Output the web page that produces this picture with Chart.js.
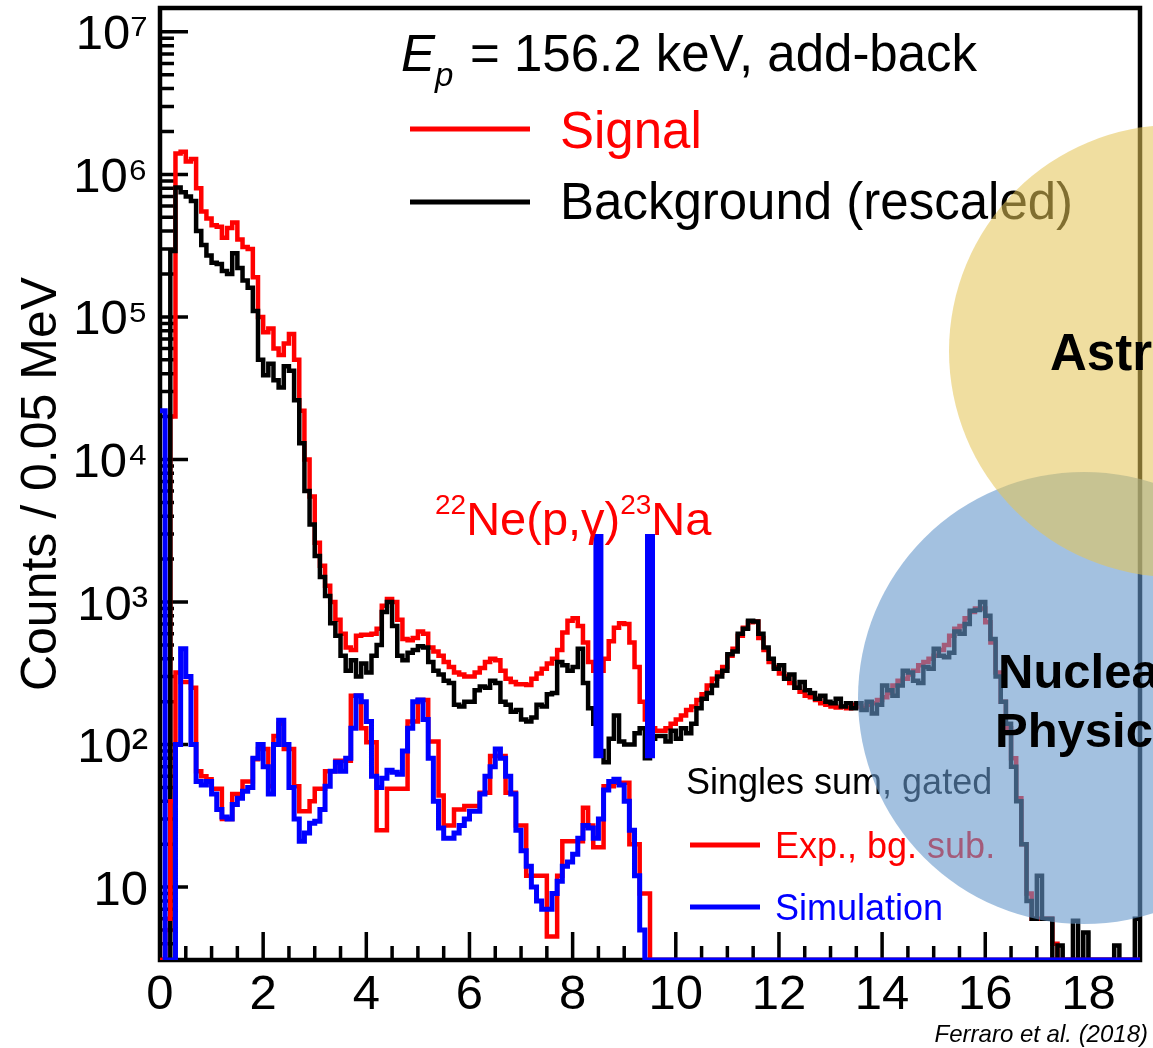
<!DOCTYPE html>
<html>
<head>
<meta charset="utf-8">
<script src="https://cdn.jsdelivr.net/npm/chart.js@4.4.0/dist/chart.umd.min.js"></script>
<style>
  html, body { margin: 0; padding: 0; background: #fff; }
  canvas { display: block; }
</style>
</head>
<body>
<canvas id="spectrum" width="1153" height="1048"></canvas>
<script>
// histograms in 0.1 MeV bins starting at 0 MeV (0 = empty bin)
const binWidth = 0.1;
const xMax = 19.0;
const yMin = 3.08;
const yMax = 1.47e7;

const signal = [
  0, 5, 2.0e4, 1.4e6, 1.44e6, 1.23e6, 1.28e6, 8.0e5, 5.5e5, 4.9e5,
  4.4e5, 4.3e5, 3.6e5, 4.2e5, 4.6e5, 3.5e5, 3.1e5, 3.0e5, 1.9e5, 1.0e5,
  7.8e4, 8.3e4, 6.0e4, 5.4e4, 6.5e4, 7.6e4, 5.0e4, 2.2e4, 1.0e4, 5.5e3,
  2600, 1800, 1300, 1000, 750, 600, 480, 460, 580, 590,
  590, 600, 650, 940, 1050, 1000, 750, 550, 540, 560,
  620, 600, 480, 450, 420, 380, 350, 320, 310, 300,
  300, 320, 345, 380, 400, 390, 330, 290, 275, 265,
  265, 262, 290, 315, 340, 370, 400, 460, 610, 740,
  770, 680, 520, 380, 330, 330, 400, 530, 660, 710,
  700, 520, 350, 200, 150, 130, 125, 125, 130, 140,
  150, 160, 175, 185, 205, 225, 260, 290, 320, 350,
  420, 470, 580, 660, 720, 730, 560, 460, 380, 350,
  315, 300, 270, 250, 235, 220, 215, 205, 195, 190,
  185, 182, 185, 180, 190, 185, 180, 190, 195, 205,
  215, 230, 260, 280, 290, 310, 330, 360, 380, 400,
  420, 460, 500, 580, 650, 680, 770, 850, 900, 900,
  720, 520, 320, 200, 130, 80, 42, 20, 9, 6,
  6, 6, 6, 4, 0, 0, 0, 0, 0, 0,
  0, 0, 0, 0, 0, 0, 0, 0, 0, 0
];

const background = [
  0, 0, 2.9e5, 8.1e5, 7.5e5, 7.0e5, 6.5e5, 4.0e5, 3.2e5, 2.7e5,
  2.4e5, 2.35e5, 2.1e5, 2.0e5, 2.8e5, 2.2e5, 1.8e5, 1.6e5, 1.1e5, 5.0e4,
  3.9e4, 4.7e4, 3.6e4, 3.2e4, 4.5e4, 4.2e4, 2.6e4, 1.3e4, 6.0e3, 3.5e3,
  2100, 1500, 1100, 710, 580, 420, 330, 390, 300, 370,
  320, 420, 500, 850, 1000, 680, 420, 390, 440, 460,
  490, 480, 380, 330, 310, 280, 270, 190, 185, 200,
  200, 240, 255, 250, 280, 270, 200, 190, 170, 175,
  150, 145, 155, 190, 185, 225, 230, 380, 360, 330,
  350, 470, 270, 180, 140, 90, 75, 110, 160, 105,
  100, 100, 120, 130, 80, 110, 115, 115, 105, 125,
  110, 130, 120, 140, 180, 210, 230, 260, 300, 330,
  430, 450, 600, 650, 740, 730, 600, 480, 400, 340,
  360, 290, 310, 250, 275, 240, 230, 210, 220, 200,
  195, 210, 185, 195, 180, 195, 175, 200, 165, 190,
  260, 240, 220, 260, 330, 320, 280, 270, 350, 340,
  470, 420, 410, 440, 620, 600, 700, 870, 880, 1000,
  800, 550, 300, 200, 140, 70, 40, 20, 8, 6,
  12, 6, 6, 0, 3.9, 0, 0, 5.8, 0, 4.8,
  0, 0, 0, 0, 0, 3.9, 0, 0, 0, 6
];

const expBgSub = [
  0, 6, 40, 320, 275, 275, 250, 65, 60, 57,
  49, 49, 30, 30, 45, 45, 55, 55, 79, 93,
  93, 51, 115, 140, 93, 93, 51, 34, 34, 40,
  49, 49, 65, 65, 77, 77, 77, 220, 220, 130,
  104, 104, 25, 25, 49, 49, 49, 49, 145, 145,
  205, 205, 105, 105, 44, 27, 27, 35, 35, 37,
  37, 37, 46, 46, 83, 83, 83, 46, 46, 27,
  27, 12, 12, 12, 12, 4.5, 4.5, 12, 21, 21,
  21, 21, 36, 27, 19, 19, 51, 51, 54, 54,
  54, 20, 20, 9, 9, 0
];

const simulation = [
  2.2e4, 0, 0, 100, 470, 300, 100, 55, 52, 55,
  45, 35, 31, 30, 38, 42, 47, 50, 80, 100,
  70, 45, 100, 148, 100, 50, 30, 21, 24, 28,
  29, 35, 51, 65, 75, 65, 80, 130, 220, 200,
  145, 60, 50, 58, 66, 64, 62, 90, 130, 200,
  205, 150, 80, 40, 26, 22, 22, 24, 27, 30,
  34, 34, 45, 60, 70, 93, 80, 60, 45, 25,
  18, 14, 10, 8, 7, 7, 9, 11, 14, 15,
  17, 22, 27, 26, 22, 30, 48, 55, 57, 52,
  40, 25, 12, 5, 0
];

// gate markers for the 22Ne(p,g)23Na window
const gateEnergies = [8.5, 9.5];
const gateCounts = [80, 3000];

const xTickValues = [0, 2, 4, 6, 8, 10, 12, 14, 16, 18];
const yDecadeValues = [10, 100, 1e3, 1e4, 1e5, 1e6, 1e7];
const yDecadeLabels = ['10', '10²', '10³', '10⁴', '10⁵', '10⁶', '10⁷'];

const FONT = "'Liberation Sans', Arial, Helvetica, sans-serif";

function histogram(values) {
  const pts = values.map((v, i) => ({ x: +(i * binWidth).toFixed(2), y: v > 0 ? v : yMin }));
  pts.push({ x: xMax, y: pts[pts.length - 1].y });
  return pts;
}

function gateLine(e) {
  return { label: '', data: [{ x: e, y: gateCounts[1] }, { x: e, y: gateCounts[0] }],
    borderColor: '#0000ff', borderWidth: 10, borderCapStyle: 'butt', pointRadius: 0, order: 1 };
}

// frame + inward ticks, ROOT style
const framePlugin = {
  id: 'frame',
  beforeDatasetsDraw(chart) {
    const { ctx, chartArea: a, scales: { x, y } } = chart;
    ctx.save();
    ctx.strokeStyle = '#000';
    ctx.lineWidth = 3.5;
    ctx.beginPath();
    for (let i = 0; i <= 38; i++) {
      const px = x.getPixelForValue(i * 0.5);
      const len = i % 4 === 0 ? 28 : 14;
      ctx.moveTo(px, a.bottom);
      ctx.lineTo(px, a.bottom - len);
    }
    for (let d = 0; d <= 7; d++) {
      for (let m = 1; m <= 9; m++) {
        const v = m * Math.pow(10, d);
        if (v < yMin || v > yMax) continue;
        const py = y.getPixelForValue(v);
        ctx.moveTo(a.left, py);
        ctx.lineTo(a.left + (m === 1 ? 28 : 14), py);
      }
    }
    ctx.stroke();
    ctx.lineWidth = 4.5;
    ctx.strokeRect(a.left, a.top, a.right - a.left, a.bottom - a.top);
    ctx.restore();
  }
};

function seg(ctx, x1, x2, y, color, w) {
  ctx.strokeStyle = color;
  ctx.lineWidth = w;
  ctx.beginPath();
  ctx.moveTo(x1, y);
  ctx.lineTo(x2, y);
  ctx.stroke();
}

const overlayPlugin = {
  id: 'overlay',
  afterDraw(chart) {
    const ctx = chart.ctx;
    const ds = chart.data.datasets;
    ctx.save();
    ctx.textBaseline = 'alphabetic';
    ctx.textAlign = 'left';

    // upper legend
    ctx.fillStyle = '#000';
    ctx.font = 'italic 51px ' + FONT;
    ctx.fillText('E', 401, 71);
    const wE = ctx.measureText('E').width;
    ctx.font = 'italic 33px ' + FONT;
    ctx.fillText('p', 401 + wE, 86);
    ctx.font = '51px ' + FONT;
    ctx.fillText('= 156.2 keV, add-back', 470, 71);

    seg(ctx, 410, 530, 129, ds[0].borderColor, 5);
    ctx.fillStyle = ds[0].borderColor;
    ctx.fillText(ds[0].label, 560, 148);
    seg(ctx, 410, 530, 202, ds[1].borderColor, 5);
    ctx.fillStyle = ds[1].borderColor;
    ctx.fillText(ds[1].label, 560, 219);

    // reaction label
    ctx.fillStyle = '#ff0000';
    let cx = 435;
    ctx.font = '28px ' + FONT;
    ctx.fillText('22', cx, 514);
    cx += ctx.measureText('22').width;
    ctx.font = '47px ' + FONT;
    ctx.fillText('Ne(p,γ)', cx, 535);
    cx += ctx.measureText('Ne(p,γ)').width;
    ctx.font = '28px ' + FONT;
    ctx.fillText('23', cx, 514);
    cx += ctx.measureText('23').width;
    ctx.font = '47px ' + FONT;
    ctx.fillText('Na', cx, 535);

    // lower legend
    ctx.font = '36px ' + FONT;
    ctx.fillStyle = '#000';
    ctx.fillText('Singles sum, gated', 686, 794);
    seg(ctx, 690, 760, 845, ds[2].borderColor, 5);
    ctx.fillStyle = ds[2].borderColor;
    ctx.fillText(ds[2].label, 775, 858);
    seg(ctx, 690, 760, 907, ds[3].borderColor, 5);
    ctx.fillStyle = ds[3].borderColor;
    ctx.fillText(ds[3].label, 775, 920);

    // credit
    ctx.fillStyle = '#000';
    ctx.font = 'italic 24px ' + FONT;
    ctx.textAlign = 'right';
    ctx.fillText('Ferraro et al. (2018)', 1148, 1042);
    ctx.textAlign = 'left';

    // slide overlay circles
    ctx.fillStyle = 'rgba(102, 152, 203, 0.6)';
    ctx.beginPath();
    ctx.arc(1084, 698, 226, 0, Math.PI * 2);
    ctx.fill();
    ctx.fillStyle = 'rgba(228, 196, 85, 0.56)';
    ctx.beginPath();
    ctx.arc(1175, 351, 226, 0, Math.PI * 2);
    ctx.fill();

    ctx.fillStyle = '#000';
    ctx.font = 'bold 51px ' + FONT;
    ctx.fillText('Astrophysics', 1050, 370);
    ctx.font = 'bold 49px ' + FONT;
    ctx.fillText('Nuclear', 998, 688);
    ctx.fillText('Physics', 995, 747);
    ctx.restore();
  }
};

Chart.defaults.font.family = FONT;
Chart.defaults.color = '#000';

new Chart(document.getElementById('spectrum'), {
  type: 'line',
  data: {
    datasets: [
      { label: 'Signal', data: histogram(signal), borderColor: '#ff0000', borderWidth: 4.5, stepped: true, pointRadius: 0, order: 5 },
      { label: 'Background (rescaled)', data: histogram(background), borderColor: '#000000', borderWidth: 4.5, stepped: true, pointRadius: 0, order: 4 },
      { label: 'Exp., bg. sub.', data: histogram(expBgSub), borderColor: '#ff0000', borderWidth: 4.5, stepped: true, pointRadius: 0, order: 3 },
      { label: 'Simulation', data: histogram(simulation), borderColor: '#0000ff', borderWidth: 5, stepped: true, pointRadius: 0, order: 2 },
      gateLine(gateEnergies[0]),
      gateLine(gateEnergies[1])
    ]
  },
  options: {
    responsive: false,
    animation: false,
    devicePixelRatio: 1,
    layout: { padding: { top: 8, right: 13, left: 0, bottom: 0 } },
    plugins: { legend: { display: false }, tooltip: { enabled: false } },
    scales: {
      x: {
        type: 'linear', min: 0, max: xMax,
        grid: { display: false, drawTicks: false },
        border: { display: false },
        ticks: {
          stepSize: 2, includeBounds: false, autoSkip: false, maxRotation: 0, padding: 6,
          font: { size: 49 }, color: '#000',
          callback: v => xTickValues.includes(v) ? String(v) : ''
        },
        afterFit: s => { s.height = 88; s.paddingLeft = 0; s.paddingRight = 0; }
      },
      y: {
        type: 'logarithmic', min: yMin, max: yMax,
        grid: { display: false, drawTicks: false },
        border: { display: false },
        ticks: {
          autoSkip: false, padding: 12, labelOffset: 4,
          font: { size: 49 }, color: '#000',
          callback: v => {
            const k = yDecadeValues.findIndex(d => Math.abs(v / d - 1) < 1e-6);
            return k >= 0 ? yDecadeLabels[k] : '';
          }
        },
        title: {
          display: true, text: 'Counts / 0.05 MeV', color: '#000',
          font: { size: 50 }, padding: { top: 12, bottom: 0 }
        },
        afterFit: s => { s.width = 160; s.paddingTop = 0; s.paddingBottom = 0; }
      }
    }
  },
  plugins: [framePlugin, overlayPlugin]
});
</script>
</body>
</html>
